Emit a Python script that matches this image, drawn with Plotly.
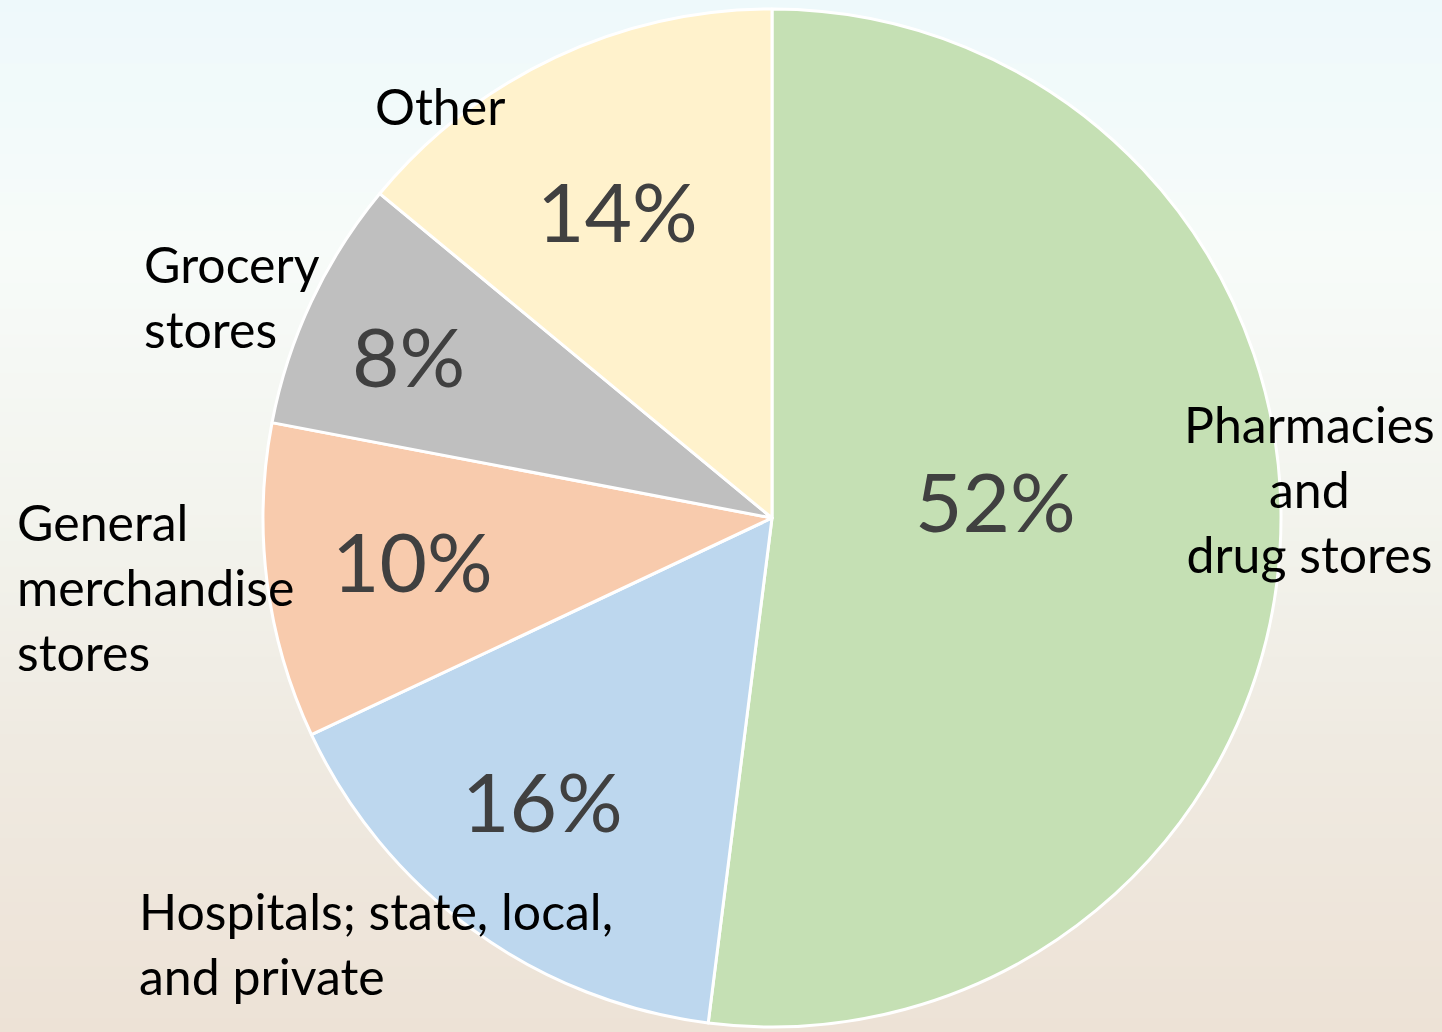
import math
import plotly.graph_objects as go

# ---- data ----
categories = ["Pharmacies<br>and<br>drug stores", "Hospitals; state, local,<br>and private",
              "General<br>merchandise<br>stores", "Grocery<br>stores", "Other"]
values = [52, 16, 10, 8, 14]
colors = ["#C5E0B4", "#BDD7EE", "#F8CBAD", "#BFBFBF", "#FFF2CC"]

# ---- style ----
W, H = 1442, 1032
CX, CY, R = 772, 518, 509          # pie centre / radius in pixels
pct_rfrac = [0.44, 0.714, 0.712, 0.783, 0.677]
pct_tweak = [8.2, -3.1, -0.5, 1.1, 1.5]
# category label anchor points (pixels) and alignment
cat_pos = [(1309, 489, "center"), (137, 943, "left"), (15, 587, "left"),
           (142, 296, "left"), (373, 106, "left")]

fig = go.Figure()
fig.add_trace(go.Pie(
    labels=[c.replace("<br>", " ") for c in categories], values=values, sort=False,
    direction="clockwise", rotation=0,
    marker=dict(colors=colors, line=dict(color="white", width=3)),
    textinfo="none", hoverinfo="label+percent", showlegend=False,
    domain=dict(x=[(CX - R) / W, (CX + R) / W], y=[1 - (CY + R) / H, 1 - (CY - R) / H]),
))

annotations = []
total = sum(values)
cum = 0
for i, v in enumerate(values):
    mid = 90 - (cum + v / 2) / total * 360 + pct_tweak[i]
    cum += v
    r = R * pct_rfrac[i]
    px = CX + r * math.cos(math.radians(mid))
    py = CY - r * math.sin(math.radians(mid))
    annotations.append(dict(
        x=px / W, y=1 - py / H, xref="paper", yref="paper", showarrow=False,
        text=f"{round(v / total * 100)}%", xanchor="center", yanchor="middle",
        font=dict(family="Lato", size=82, color="#404040")))
for (x, y, al), c in zip(cat_pos, categories):
    annotations.append(dict(
        x=x / W, y=1 - y / H, xref="paper", yref="paper", showarrow=False,
        text=c, xanchor="center" if al == "center" else "left", yanchor="middle", align=al,
        font=dict(family="Lato", size=50, color="#000000")))

# background gradient bands
stops = [(0, (238, 249, 251)), (250, (247, 251, 249)), (500, (243, 244, 238)),
         (750, (239, 234, 225)), (1032, (237, 226, 214))]
shapes = []
N = 80
for k in range(N):
    y0 = k * H / N
    y1 = (k + 1) * H / N
    ym = (y0 + y1) / 2
    for j in range(len(stops) - 1):
        if stops[j][0] <= ym <= stops[j + 1][0]:
            t = (ym - stops[j][0]) / (stops[j + 1][0] - stops[j][0])
            c = tuple(round(a + (b - a) * t) for a, b in zip(stops[j][1], stops[j + 1][1]))
            break
    shapes.append(dict(type="rect", xref="paper", yref="paper", x0=0, x1=1,
                       y0=1 - y1 / H - 0.001, y1=1 - y0 / H + 0.001, layer="below",
                       line=dict(width=0), fillcolor=f"rgb{c}"))

fig.update_layout(
    width=W, height=H, margin=dict(l=0, r=0, t=0, b=0),
    paper_bgcolor="#F3F4EF", plot_bgcolor="rgba(0,0,0,0)",
    annotations=annotations, shapes=shapes,
)
fig.write_html("out.html", config={"displayModeBar": False},
               post_script="document.body.style.margin='0';document.body.style.overflow='hidden';")
